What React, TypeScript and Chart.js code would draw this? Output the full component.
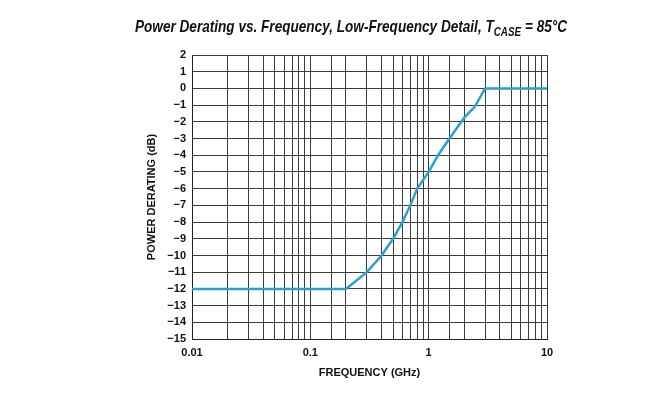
import React, { useEffect, useRef } from 'react';
import { Chart, registerables } from 'chart.js';

Chart.register(...registerables);

const frequencyGHz = [0.01, 0.2, 0.3, 0.4, 0.5, 0.6, 0.7, 0.8, 1, 1.2, 1.5, 2, 2.45, 3, 10];
const deratingDb = [-12, -12, -11, -10, -9, -8, -7, -6, -5, -4, -3, -1.75, -1.1, 0, 0];
const xTickLabels = [0.01, 0.1, 1, 10];
const titleMain = 'Power Derating vs. Frequency, Low-Frequency Detail, T';
const titleSub = 'CASE';
const titleTail = ' = 85°C';
const xAxisTitle = 'FREQUENCY (GHz)';
const yAxisTitle = 'POWER DERATING (dB)';

const FONT = '"Liberation Sans", Arial, Helvetica, sans-serif';

const titlePlugin = {
  id: 'subTitle',
  afterDraw(chart: any) {
    const ctx = chart.ctx as CanvasRenderingContext2D;
    ctx.save();
    const mainFont = `italic bold 16.5px ${FONT}`;
    const subFont = `italic bold 12px ${FONT}`;
    ctx.font = mainFont;
    const w1 = ctx.measureText(titleMain).width;
    const w3 = ctx.measureText(titleTail).width;
    ctx.font = subFont;
    const w2 = ctx.measureText(titleSub).width;
    const total = w1 + w2 + w3;
    const left = 135;
    const target = 432;
    const sx = target / total;
    const baseline = 31.5;
    ctx.translate(left, 0);
    ctx.scale(sx, 1);
    ctx.fillStyle = '#111';
    ctx.textBaseline = 'alphabetic';
    ctx.textAlign = 'left';
    ctx.font = mainFont;
    ctx.fillText(titleMain, 0, baseline);
    ctx.font = subFont;
    ctx.fillText(titleSub, w1, baseline + 4);
    ctx.font = mainFont;
    ctx.fillText(titleTail, w1 + w2, baseline);
    ctx.restore();
  },
};

export default function App() {
  const ref = useRef<HTMLCanvasElement>(null);
  useEffect(() => {
    const canvas = ref.current;
    if (!canvas) return;
    const points = frequencyGHz.map((f, i) => ({ x: f, y: deratingDb[i] }));
    const gridColor = '#3c3c3c';
    const chart = new Chart(canvas, {
      type: 'line',
      data: {
        datasets: [
          {
            data: points,
            borderColor: '#2a9fd0',
            backgroundColor: '#2a9fd0',
            borderWidth: 2.5,
            pointRadius: 0,
            tension: 0,
            fill: false,
          },
        ],
      },
      options: {
        responsive: false,
        animation: false,
        maintainAspectRatio: false,
        layout: { padding: { left: 140, right: 119, top: 55, bottom: 0 } },
        plugins: {
          legend: { display: false },
          tooltip: { enabled: false },
          title: { display: false },
        },
        scales: {
          x: {
            type: 'logarithmic',
            min: 0.01,
            max: 10,
            afterFit(scale: any) {
              scale.height = 58;
            },
            grid: { color: gridColor, lineWidth: 1, drawTicks: false },
            border: { color: '#222', width: 1 },
            ticks: {
              autoSkip: false,
              maxRotation: 0,
              padding: 7,
              color: '#111',
              font: { family: FONT, size: 11, weight: 'bold' },
              callback(value: any) {
                const v = Number(value);
                const hit = xTickLabels.find((t) => Math.abs(t - v) / t < 1e-6);
                return hit !== undefined ? String(hit) : '';
              },
            },
            title: {
              display: true,
              text: xAxisTitle,
              color: '#111',
              font: { family: FONT, size: 11, weight: 'bold' },
              padding: { top: 0, bottom: 17 },
            },
          },
          y: {
            type: 'linear',
            min: -15,
            max: 2,
            afterFit(scale: any) {
              scale.width = 52;
            },
            grid: { color: gridColor, lineWidth: 1, drawTicks: false },
            border: { color: '#222', width: 1 },
            ticks: {
              stepSize: 1,
              padding: 6,
              color: '#111',
              font: { family: FONT, size: 11, weight: 'bold' },
              callback(value: any) {
                const v = Number(value);
                return v < 0 ? '\u2212' + Math.abs(v) : String(v);
              },
            },
            title: {
              display: true,
              text: yAxisTitle,
              color: '#111',
              font: { family: FONT, size: 11, weight: 'bold' },
              padding: { top: 5, bottom: 0 },
            },
          },
        },
      } as any,
      plugins: [titlePlugin],
    });
    return () => chart.destroy();
  }, []);
  return (
    <canvas
      ref={ref}
      width={666}
      height={397}
      style={{ position: 'fixed', left: 0, top: 0, width: 666, height: 397, background: '#fff' }}
    />
  );
}
